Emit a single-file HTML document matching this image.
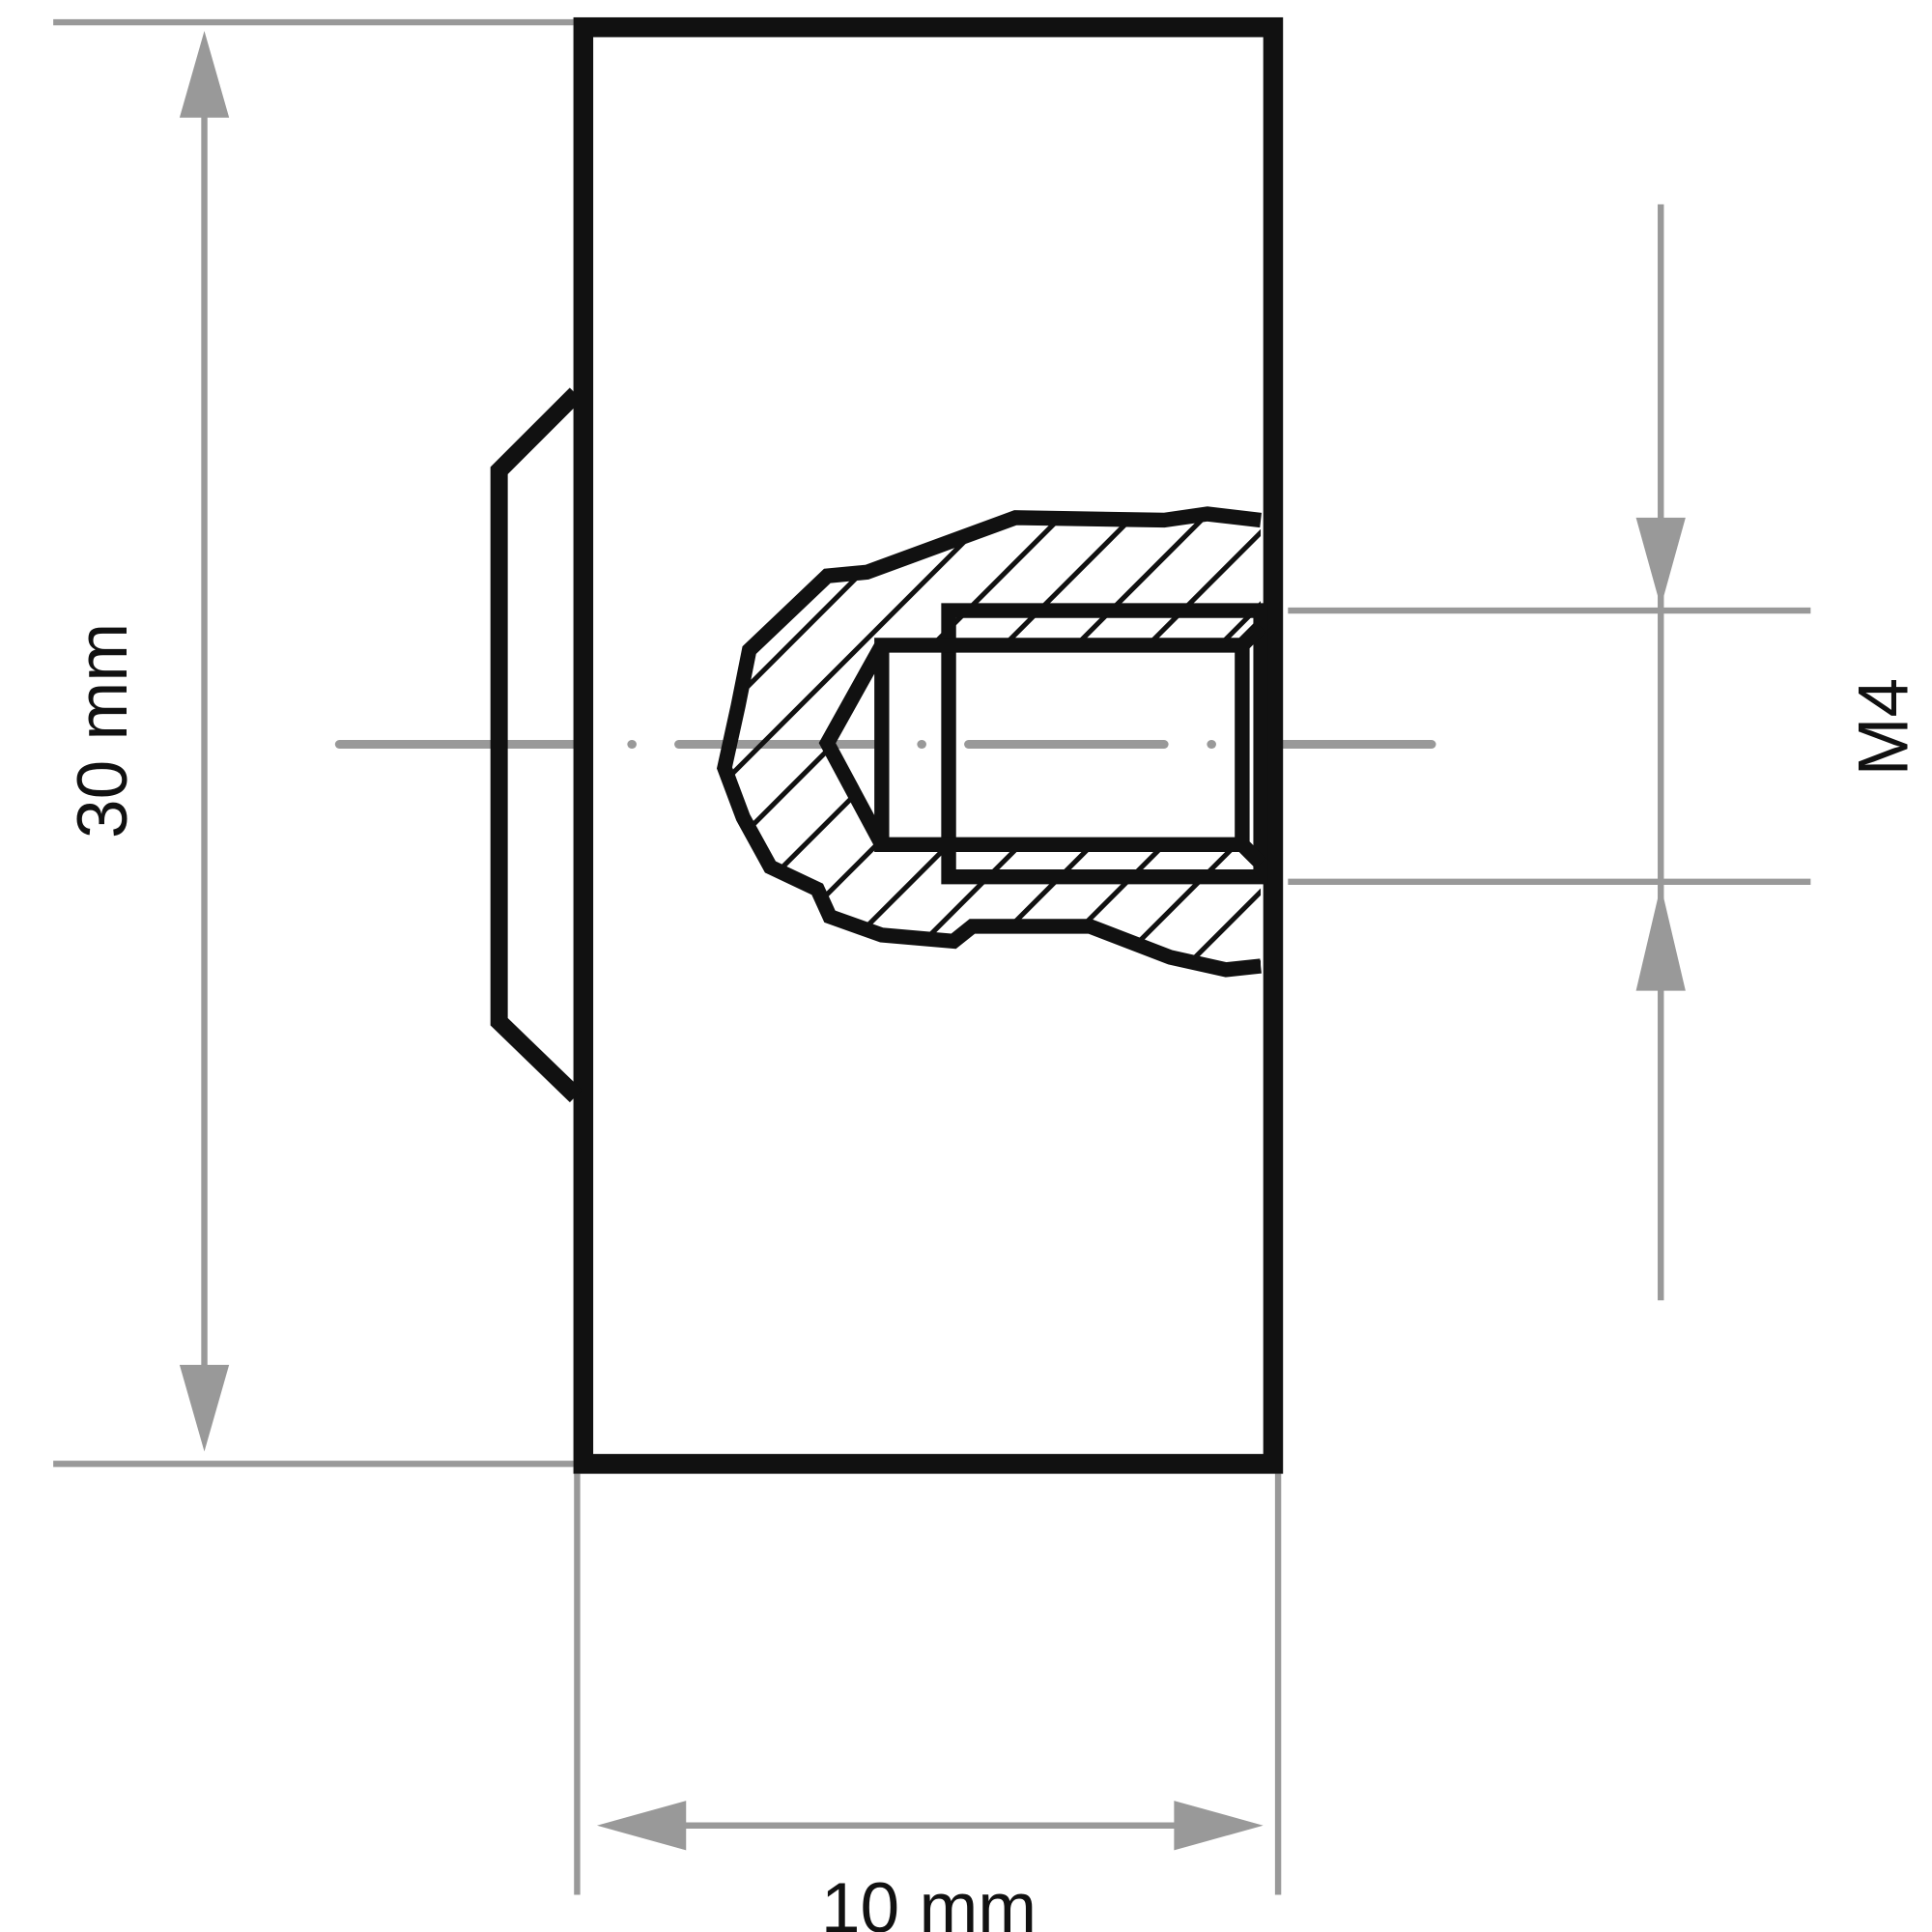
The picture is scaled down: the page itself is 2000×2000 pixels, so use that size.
<!DOCTYPE html>
<html><head><style>html,body{margin:0;padding:0;background:#fff}svg{display:block}</style></head>
<body>
<svg width="2000" height="2000" viewBox="0 0 1560 1560" xmlns="http://www.w3.org/2000/svg">
<defs>
<clipPath id="hc">
<path clip-rule="evenodd" d="M1018,420 L975,415 L940,420 L820,418 L700,462 L668,465 L605,525 L596,570 L585,620 L600,660 L622,700 L660,718 L670,740 L712,755 L770,760 L785,748 L880,748 L945,773 L990,783 L1018,780 Z M712,521 L1003,521 L1018,506 L1018,697 L1003,682 L712,682 L668,600 Z"/>
</clipPath>
</defs>
<g stroke="#999" stroke-width="5" fill="none">
<line x1="43" y1="18" x2="463" y2="18"/>
<line x1="43" y1="1182" x2="463" y2="1182"/>
<line x1="165" y1="60" x2="165" y2="1140"/>
<line x1="1040" y1="493" x2="1462" y2="493"/>
<line x1="1040" y1="712" x2="1462" y2="712"/>
<line x1="1341" y1="165" x2="1341" y2="1050"/>
<line x1="466" y1="1190" x2="466" y2="1530"/>
<line x1="1032" y1="1190" x2="1032" y2="1530"/>
<line x1="520" y1="1474" x2="985" y2="1474"/>
</g>
<g fill="#999">
<polygon points="165,25 145,95 185,95"/>
<polygon points="165,1172 145,1102 185,1102"/>
<polygon points="1341,490 1321,418 1361,418"/>
<polygon points="1341,715 1321,800 1361,800"/>
<polygon points="482,1474 554,1454 554,1494"/>
<polygon points="1020,1474 948,1454 948,1494"/>
</g>
<g stroke="#999" stroke-width="7" stroke-linecap="round">
<line x1="274" y1="601" x2="470" y2="601"/>
<line x1="510" y1="601" x2="510.5" y2="601"/>
<line x1="548" y1="601" x2="706" y2="601"/>
<line x1="744" y1="601" x2="744.5" y2="601"/>
<line x1="782" y1="601" x2="940" y2="601"/>
<line x1="978" y1="601" x2="978.5" y2="601"/>
<line x1="1016" y1="601" x2="1156" y2="601"/>
</g>
<g clip-path="url(#hc)" stroke="#111" stroke-width="4">
<line x1="184" y1="800" x2="584" y2="400"/>
<line x1="242" y1="800" x2="642" y2="400"/>
<line x1="300" y1="800" x2="700" y2="400"/>
<line x1="358" y1="800" x2="758" y2="400"/>
<line x1="416" y1="800" x2="816" y2="400"/>
<line x1="474" y1="800" x2="874" y2="400"/>
<line x1="532" y1="800" x2="932" y2="400"/>
<line x1="590" y1="800" x2="990" y2="400"/>
<line x1="648" y1="800" x2="1048" y2="400"/>
<line x1="706" y1="800" x2="1106" y2="400"/>
<line x1="764" y1="800" x2="1164" y2="400"/>
<line x1="822" y1="800" x2="1222" y2="400"/>
<line x1="880" y1="800" x2="1280" y2="400"/>
<line x1="938" y1="800" x2="1338" y2="400"/>
<line x1="996" y1="800" x2="1396" y2="400"/>
</g>
<g stroke="#111" fill="none" stroke-linejoin="miter">
<rect x="471" y="22" width="557" height="1160" stroke-width="16"/>
<polyline points="465,318 403,380 403,825 465,885" stroke-width="14"/>
<path d="M1018,420 L975,415 L940,420 L820,418 L700,462 L668,465 L605,525 L596,570 L585,620 L600,660 L622,700 L660,718 L670,740 L712,755 L770,760 L785,748 L880,748 L945,773 L990,783 L1018,780" stroke-width="12"/>
<rect x="766" y="493" width="252" height="215" stroke-width="12"/>
<path d="M1018,506 L1003,521 L712,521 L712,682 L1003,682 L1018,697 M1003,521 L1003,682 M712,521 L668,600 L712,682" stroke-width="12"/>
</g>
<g font-family="Liberation Sans, sans-serif" font-size="57" fill="#111" text-anchor="middle">
<text x="750" y="1560">10 mm</text>
<text transform="translate(102,590) rotate(-90)">30 mm</text>
<text transform="translate(1540,587) rotate(-90)">M4</text>
</g>
</svg>
</body></html>
